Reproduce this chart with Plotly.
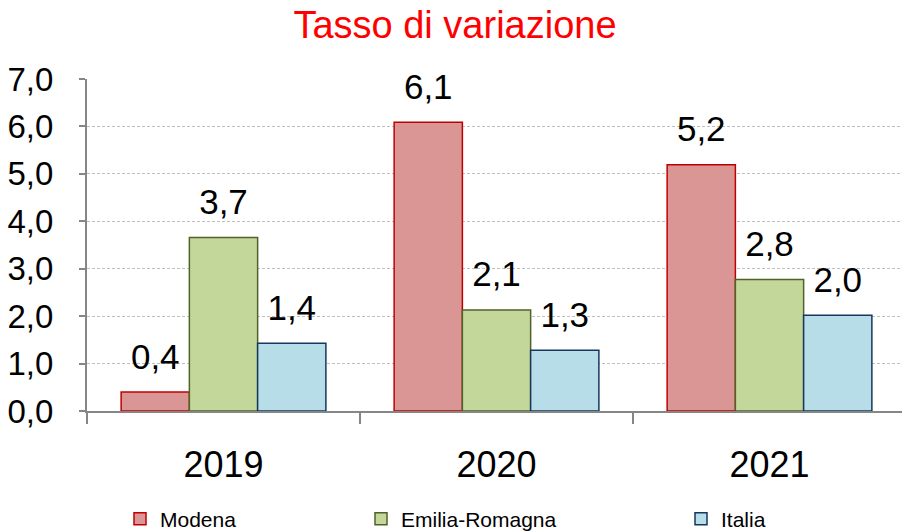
import plotly.graph_objects as go

years = ["2019", "2020", "2021"]
modena = [0.40, 6.09, 5.19]
emilia = [3.66, 2.13, 2.77]
italia = [1.43, 1.28, 2.02]
series_names = ["Modena", "Emilia-Romagna", "Italia"]
y_ticks = [0, 1, 2, 3, 4, 5, 6, 7]

FONT = "Liberation Sans, Arial, sans-serif"
fills = ["#D99694", "#C4D79B", "#B7DEE8"]
lines = ["#C00000", "#4F6228", "#17375E"]
legends = ["legend", "legend2", "legend3"]
W, H = 906, 531

fig = go.Figure()
for i, (vals, name, fc, lc, lg) in enumerate(zip([modena, emilia, italia], series_names, fills, lines, legends)):
    fig.add_trace(go.Bar(
        x=years, y=vals, name=name, legend=lg, offsetgroup=str(i),
        marker=dict(color=fc, line=dict(color=lc, width=1.5)),
    ))
for i, vals in enumerate([modena, emilia, italia]):
    fig.add_trace(go.Scatter(
        x=years, y=vals, mode="markers+text", offsetgroup=str(i), showlegend=False,
        marker=dict(size=22, color="rgba(0,0,0,0)"),
        texttemplate="%{y:.1f}", textposition="top center",
        textfont=dict(size=35, color="#000000", family=FONT),
        cliponaxis=False, hoverinfo="skip",
    ))

leg_common = dict(orientation="h", xref="container", yref="container",
                  yanchor="middle", xanchor="left", bgcolor="rgba(0,0,0,0)",
                  font=dict(size=21, family=FONT, color="#000000"))
fig.update_layout(
    width=W, height=H,
    margin=dict(l=87, r=0, t=79, b=120, autoexpand=False),
    paper_bgcolor="white", plot_bgcolor="white",
    separators=",.",
    barmode="group", bargap=0.25, bargroupgap=0,
    scattermode="group", scattergap=0.25,
    title=dict(text="Tasso di variazione", x=455/W, xanchor="center", xref="container",
               y=1 - 25/H, yanchor="middle", yref="container",
               font=dict(size=38, color="#FF0000", family=FONT)),
    font=dict(family=FONT, color="#000000"),
    legend=dict(x=120/W, y=1 - 519/H, **leg_common),
    legend2=dict(x=361/W, y=1 - 519/H, **leg_common),
    legend3=dict(x=681/W, y=1 - 519/H, **leg_common),
    xaxis=dict(type="category", showline=True, linecolor="#868686", linewidth=2,
               ticks="outside", tickson="boundaries", ticklen=11, tickcolor="#868686", tickwidth=2,
               tickfont=dict(size=36, family=FONT, color="#000000"), ticklabelstandoff=21,
               showgrid=False),
    yaxis=dict(range=[0, 7], tickvals=y_ticks, tickformat=".1f",
               showline=True, linecolor="#868686", linewidth=2,
               ticks="outside", ticklen=6, tickcolor="#868686", tickwidth=2,
               tickfont=dict(size=33, family=FONT, color="#000000"), ticklabelstandoff=19,
               showgrid=True, gridcolor="#BFBFBF", gridwidth=1, griddash="3px,2px",
               zeroline=False),
)
fig.write_html("out.html", config={"displayModeBar": False},
               post_script="document.body.style.margin='0';")
